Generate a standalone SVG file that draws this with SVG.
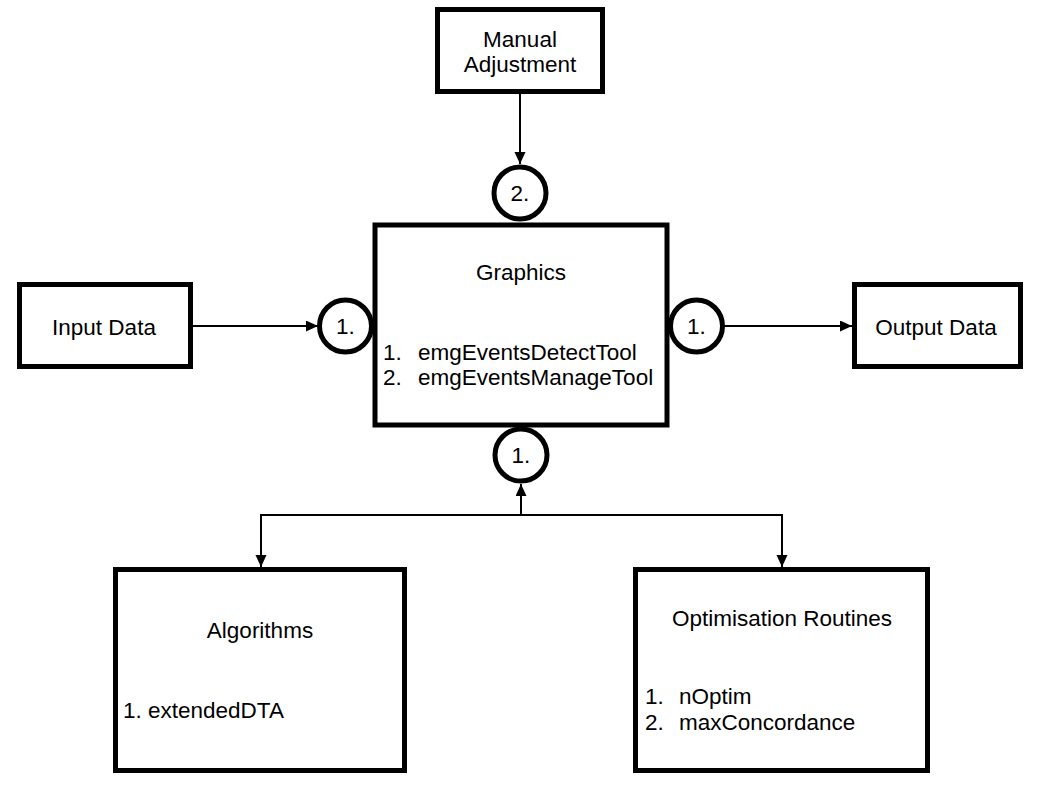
<svg xmlns="http://www.w3.org/2000/svg" width="1043" height="791" viewBox="0 0 1043 791">
<style>
.box{fill:#fff;stroke:#000;stroke-width:5}
.circ{fill:#fff;stroke:#000;stroke-width:5}
.t{font-family:"Liberation Sans",Arial,Helvetica,sans-serif;font-size:22.5px;fill:#000}
.c{text-anchor:middle}
.ln{fill:none;stroke:#000;stroke-width:2}
</style>
<defs>
<marker id="ah" markerUnits="userSpaceOnUse" markerWidth="13" markerHeight="12" refX="12" refY="5.5" orient="auto">
<path d="M0,0 L12,5.5 L0,11 z" fill="#000"/>
</marker>
</defs>
<rect width="1043" height="791" fill="#fff"/>
<g id="connectors">
<line class="ln" x1="520" y1="94" x2="520" y2="164" marker-end="url(#ah)"/>
<line class="ln" x1="192" y1="326" x2="318" y2="326" marker-end="url(#ah)"/>
<line class="ln" x1="724" y1="326" x2="852" y2="326" marker-end="url(#ah)"/>
<line class="ln" x1="521" y1="516" x2="521" y2="484" marker-end="url(#ah)"/>
<line class="ln" x1="260" y1="515" x2="783" y2="515"/>
<line class="ln" x1="261" y1="515" x2="261" y2="567" marker-end="url(#ah)"/>
<line class="ln" x1="782" y1="515" x2="782" y2="567" marker-end="url(#ah)"/>
</g>
<g id="manual">
<rect class="box" x="437.5" y="9.5" width="165" height="82"/>
<text class="t c" x="520" y="47">Manual</text>
<text class="t c" x="520" y="72">Adjustment</text>
</g>
<g id="graphics">
<rect class="box" x="375" y="225" width="292" height="200"/>
<text class="t c" x="521" y="280">Graphics</text>
<text class="t" x="383" y="360">1.</text>
<text class="t" x="418" y="360">emgEventsDetectTool</text>
<text class="t" x="383" y="385">2.</text>
<text class="t" x="418" y="385">emgEventsManageTool</text>
</g>
<g id="port-top">
<circle class="circ" cx="520" cy="193" r="26"/>
<text class="t c" x="520" y="201">2.</text>
</g>
<g id="port-left">
<circle class="circ" cx="345.5" cy="326" r="26"/>
<text class="t c" x="345.5" y="334">1.</text>
</g>
<g id="port-right">
<circle class="circ" cx="696.5" cy="326" r="26"/>
<text class="t c" x="696.5" y="334">1.</text>
</g>
<g id="port-bottom">
<circle class="circ" cx="521" cy="455" r="26"/>
<text class="t c" x="521" y="463">1.</text>
</g>
<g id="input">
<rect class="box" x="19.5" y="284.5" width="171" height="82"/>
<text class="t c" x="104" y="335">Input Data</text>
</g>
<g id="output">
<rect class="box" x="854.5" y="284.5" width="166" height="82"/>
<text class="t c" x="936" y="335">Output Data</text>
</g>
<g id="algorithms">
<rect class="box" x="115.5" y="569.5" width="289" height="201"/>
<text class="t c" x="260" y="638">Algorithms</text>
<text class="t" x="123" y="718">1. extendedDTA</text>
</g>
<g id="optimisation">
<rect class="box" x="635.5" y="569.5" width="292" height="201"/>
<text class="t c" x="782" y="626">Optimisation Routines</text>
<text class="t" x="645" y="704">1.</text>
<text class="t" x="679" y="704">nOptim</text>
<text class="t" x="645" y="730">2.</text>
<text class="t" x="679" y="730">maxConcordance</text>
</g>
</svg>
